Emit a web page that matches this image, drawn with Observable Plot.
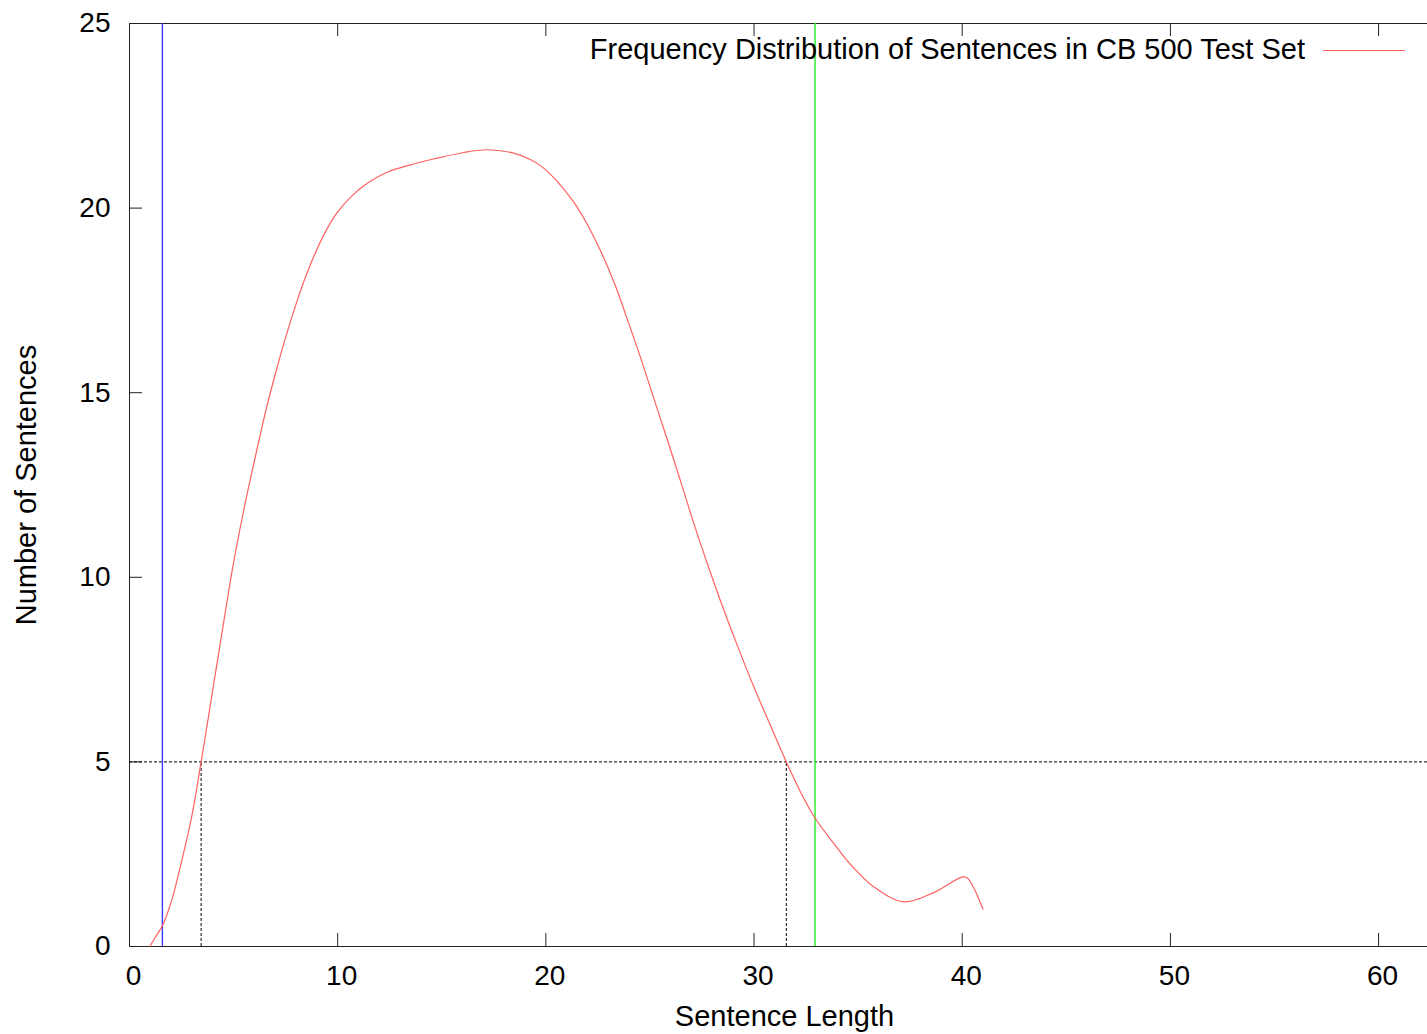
<!DOCTYPE html>
<html><head><meta charset="utf-8">
<script src="https://cdn.jsdelivr.net/npm/d3@7"></script>
<script src="https://cdn.jsdelivr.net/npm/@observablehq/plot@0.6"></script>
<style>
html,body{margin:0;padding:0;background:#fff;overflow:hidden}
#wrap{position:relative;width:1427px;height:1034px;font-family:'Liberation Sans',Arial,sans-serif}
#legend-text{position:absolute;left:0;width:1305px;top:34.8px;text-align:right;font-size:29px;line-height:29px;color:#000;white-space:nowrap}
#legend-line{position:absolute;left:1323px;width:82px;top:49.5px;height:0;border-top:1.2px solid #ff6060}
#ylabel{position:absolute;left:26px;top:484.5px;transform:translate(-50%,-50%) rotate(-90deg);font-size:29px;line-height:29px;white-space:nowrap;color:#000}
</style></head><body><div id="wrap"></div>
<script>
// ---- data ----
const sentenceLength = [0.97,1.3,1.58,2.0,2.5,3.0,3.44,4.0,4.5,5.0,5.5,6.0,6.5,7.0,7.5,8.0,8.5,9.0,9.5,10.0,10.77,11.5,12.37,13.5,14.61,16.0,17.18,18.45,19.2,19.74,20.5,21.34,22.0,22.62,23.27,24.06,24.55,25.2,25.85,26.5,27.13,27.8,28.42,29.2,30.03,30.8,31.55,32.2,32.93,33.82,34.62,35.74,37.19,38.63,39.99,40.23,40.55,41.0];
const numSentences   = [0,0.3,0.56,1.2,2.3,3.55,5.0,6.95,8.7,10.4,11.85,13.15,14.4,15.5,16.5,17.4,18.2,18.88,19.45,19.9,20.38,20.7,20.97,21.17,21.33,21.5,21.58,21.49,21.33,21.15,20.75,20.16,19.55,18.85,18.0,16.75,15.95,14.82,13.7,12.55,11.42,10.3,9.31,8.15,6.98,5.97,5.0,4.22,3.48,2.8,2.23,1.62,1.21,1.46,1.88,1.86,1.59,1.01];
const xTicks = [0,10,20,30,40,50,60];
const yTicks = [0,5,10,15,20,25];
const seriesLabel = "Frequency Distribution of Sentences in CB 500 Test Set";
const xLabel = "Sentence Length";
const yLabel = "Number of Sentences";
const blueMarker = [1.58];
const greenMarker = [32.93];
const thresholdY = [5];
const thresholdCrossings = [3.44, 31.55];
const xDomain = [0, 62.35];
const yDomain = [0, 25];

// ---- layout ----
const W = 1427, H = 1034;
const mL = 129, mR = 0, mT = 23, mB = 88;
const pxPerX = (W - mL - mR) / (xDomain[1] - xDomain[0]);
const pxPerY = (H - mT - mB) / (yDomain[1] - yDomain[0]);
const tickPx = 13;
const tx = tickPx / pxPerX, ty = tickPx / pxPerY;

const pts = sentenceLength.map((x, i) => ({x, y: numSentences[i]}));
const font = "'Liberation Sans', Arial, sans-serif";

const chart = Plot.plot({
  width: W, height: H,
  marginLeft: mL, marginRight: mR, marginTop: mT, marginBottom: mB,
  style: {fontFamily: font, fontSize: "28px", background: "#fff", color: "#000"},
  x: {domain: xDomain},
  y: {domain: yDomain},
  marks: [
    // frame (top, left, bottom)
    Plot.ruleY([yDomain[0], yDomain[1]], {stroke: "#222", strokeWidth: 1}),
    Plot.ruleX([xDomain[0]], {stroke: "#222", strokeWidth: 1}),
    // inward ticks
    Plot.ruleX(xTicks, {y1: yDomain[0], y2: yDomain[0] + ty, stroke: "#222"}),
    Plot.ruleX(xTicks, {y1: yDomain[1] - ty, y2: yDomain[1], stroke: "#222"}),
    Plot.ruleY(yTicks, {x1: xDomain[0], x2: xDomain[0] + tx, stroke: "#222"}),
    // threshold lines
    Plot.ruleY(thresholdY, {stroke: "#000", strokeWidth: 1, strokeDasharray: "3,2"}),
    Plot.ruleX(thresholdCrossings, {y1: 0, y2: thresholdY[0], stroke: "#000", strokeWidth: 1, strokeDasharray: "3,2"}),
    // markers
    Plot.ruleX(blueMarker, {stroke: "#3a3aff", strokeWidth: 1.4}),
    Plot.ruleX(greenMarker, {stroke: "#22ee22", strokeWidth: 1.4}),
    // curve
    Plot.line(pts, {x: "x", y: "y", curve: "catmull-rom", stroke: "#ff6060", strokeWidth: 1.2}),
    // axes
    Plot.axisX({ticks: xTicks, tickSize: 0, tickPadding: 19, dx: 4, label: null, fontSize: 28}),
    Plot.axisY({ticks: yTicks, tickSize: 0, tickPadding: 19, label: null, fontSize: 28}),
    // x axis title
    Plot.text([xLabel], {text: d => d, frameAnchor: "bottom", dx: 6, dy: 70.7, fontSize: 29, lineAnchor: "middle"})
  ]
});

const wrap = document.getElementById("wrap");
wrap.appendChild(chart);
const yl = document.createElement("div");
yl.id = "ylabel"; yl.textContent = yLabel;
const lt = document.createElement("div");
lt.id = "legend-text"; lt.textContent = seriesLabel;
const ll = document.createElement("div");
ll.id = "legend-line";
wrap.appendChild(yl); wrap.appendChild(lt); wrap.appendChild(ll);
</script>
</body></html>
